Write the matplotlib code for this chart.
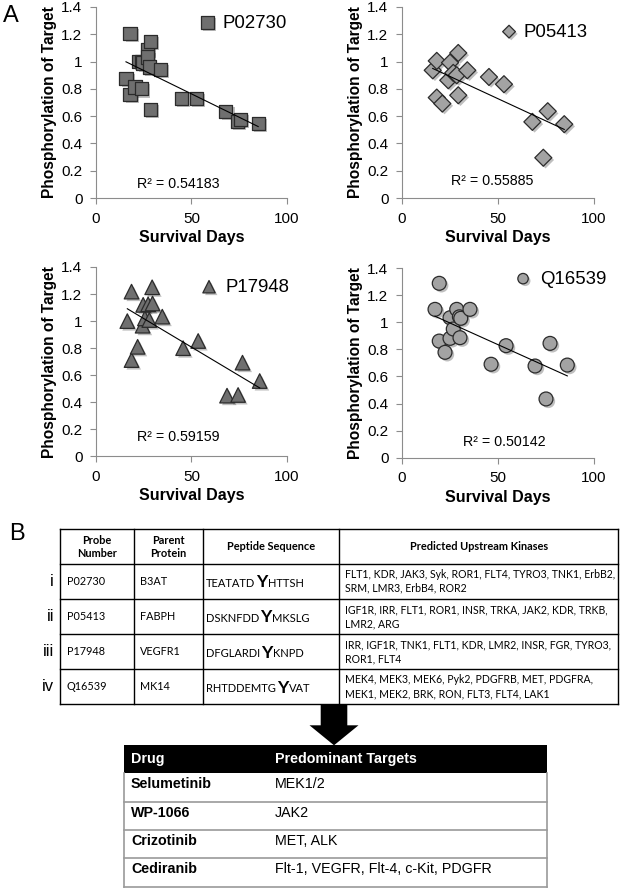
import numpy as np
import matplotlib
matplotlib.use("Agg")
import matplotlib.pyplot as plt
import matplotlib.patheffects as pe
from matplotlib.ticker import FuncFormatter, FixedLocator
from matplotlib.patches import FancyArrow

# ---------------- data ----------------
probes = ["P02730", "P05413", "P17948", "Q16539"]
r2_labels = ["R² = 0.54183", "R² = 0.55885", "R² = 0.59159", "R² = 0.50142"]

days_p02730 = [15.7, 17.8, 17.8, 20.4, 22.5, 23.9, 23.9, 24.6, 26.8, 26.8, 27.9, 28.6, 28.6, 33.8, 44.8, 52.6, 68.0, 74.0, 75.6, 84.9]
phos_p02730 = [0.875, 1.205, 0.76, 0.814, 1.0, 1.0, 0.80, 0.99, 1.09, 1.034, 0.96, 1.15, 0.65, 0.944, 0.73, 0.73, 0.636, 0.563, 0.575, 0.546]

days_p05413 = [16.0, 18.1, 18.1, 21.0, 24.1, 25.0, 26.7, 28.5, 29.3, 29.3, 34.0, 45.3, 53.1, 67.9, 73.6, 75.9, 84.5]
phos_p05413 = [0.936, 1.005, 0.736, 0.692, 0.863, 0.992, 0.917, 0.90, 1.063, 0.753, 0.936, 0.887, 0.834, 0.558, 0.295, 0.636, 0.541]

days_p17948 = [16.4, 18.6, 18.6, 21.8, 24.4, 24.7, 25.6, 27.3, 27.9, 29.4, 29.6, 34.7, 45.6, 53.5, 68.6, 74.4, 76.7, 85.7]
phos_p17948 = [1.0, 1.218, 0.712, 0.81, 0.966, 1.12, 1.02, 1.124, 1.008, 1.25, 1.13, 1.033, 0.80, 0.853, 0.449, 0.454, 0.693, 0.557]

days_q16539 = [17.2, 19.4, 19.4, 22.4, 25.0, 25.0, 26.7, 28.5, 29.9, 30.2, 30.6, 35.4, 46.4, 54.2, 69.3, 75.0, 77.1, 86.1]
phos_q16539 = [1.095, 1.287, 0.861, 0.778, 1.033, 0.881, 0.95, 1.095, 1.04, 0.886, 1.029, 1.095, 0.69, 0.827, 0.677, 0.434, 0.844, 0.684]

x_ticks = [0, 50, 100]
y_ticks = [0, 0.2, 0.4, 0.6, 0.8, 1.0, 1.2, 1.4]

# table B
tb_headers = ["Probe\nNumber", "Parent\nProtein", "Peptide Sequence", "Predicted Upstream Kinases"]
tb_roman = ["i", "ii", "iii", "iv"]
tb_probe = ["P02730", "P05413", "P17948", "Q16539"]
tb_parent = ["B3AT", "FABPH", "VEGFR1", "MK14"]
tb_pep_pre = ["TEATATD", "DSKNFDD", "DFGLARDI", "RHTDDEMTG"]
tb_pep_site = ["Y", "Y", "Y", "Y"]
tb_pep_post = ["HTTSH", "MKSLG", "KNPD", "VAT"]
tb_kinases = [
    "FLT1, KDR, JAK3, Syk, ROR1, FLT4, TYRO3, TNK1, ErbB2,\nSRM, LMR3, ErbB4, ROR2",
    "IGF1R, IRR, FLT1, ROR1, INSR, TRKA, JAK2, KDR, TRKB,\nLMR2, ARG",
    "IRR, IGF1R, TNK1, FLT1, KDR, LMR2, INSR, FGR, TYRO3,\nROR1, FLT4",
    "MEK4, MEK3, MEK6, Pyk2, PDGFRB, MET, PDGFRA,\nMEK1, MEK2, BRK, RON, FLT3, FLT4, LAK1",
]

drug_headers = ["Drug", "Predominant Targets"]
drugs = ["Selumetinib", "WP-1066", "Crizotinib", "Cediranib"]
drug_targets = ["MEK1/2", "JAK2", "MET, ALK", "Flt-1, VEGFR, Flt-4, c-Kit, PDGFR"]

# ---------------- figure ----------------
W, H = 625, 891
fig = plt.figure(figsize=(W / 100, H / 100), dpi=100)
SANS = ["Liberation Sans", "DejaVu Sans"]
TAB = ["Lato", "DejaVu Sans"]
plt.rcParams["font.family"] = SANS


def px_axes(x0, x1, ytop, ybot):
    return [x0 / W, 1 - ybot / H, (x1 - x0) / W, (ybot - ytop) / H]


panels = [
    dict(rect=px_axes(96, 287, 7, 198), x=days_p02730, y=phos_p02730, marker="s", ms=90,
         fc="#6f6f6f", lscale=1.0, leg=(0.533, 0.916), pad=0.35, r2=(0.429, 0.073)),
    dict(rect=px_axes(402, 594, 7, 198), x=days_p05413, y=phos_p05413, marker="D", ms=75,
         fc="#a3a3a3", lscale=0.75, leg=(0.509, 0.869), pad=0.3, r2=(0.469, 0.089)),
    dict(rect=px_axes(96, 287, 267, 456.4), x=days_p17948, y=phos_p17948, marker="^", ms=110,
         fc="#6f6f6f", lscale=0.85, leg=(0.543, 0.894), pad=0.36, r2=(0.429, 0.102)),
    dict(rect=px_axes(402, 594, 268, 457.8), x=days_q16539, y=phos_q16539, marker="o", ms=100,
         fc="#a3a3a3", lscale=0.75, leg=(0.582, 0.942), pad=0.41, r2=(0.531, 0.083)),
]

spine_col = "#8c8c8c"
shadow = [pe.SimplePatchShadow(offset=(1.6, -1.6), shadow_rgbFace="#000000", alpha=0.25), pe.Normal()]

for i, p in enumerate(panels):
    ax = fig.add_axes(p["rect"])
    x = np.array(p["x"])
    y = np.array(p["y"])
    sc = ax.scatter(x, y, s=p["ms"], marker=p["marker"], facecolor=p["fc"], edgecolor="#2b2b2b",
                    linewidth=0.9, zorder=3, label=probes[i])
    sc.set_path_effects(shadow)
    k, b = np.polyfit(x, y, 1)
    xl = np.array([x.min(), x.max()])
    ax.plot(xl, k * xl + b, color="black", lw=0.8, zorder=4)
    ax.set_xlim(0, 100)
    ax.set_ylim(0, 1.4)
    ax.xaxis.set_major_locator(FixedLocator(x_ticks))
    ax.yaxis.set_major_locator(FixedLocator(y_ticks))
    ax.yaxis.set_major_formatter(FuncFormatter(lambda v, _: f"{v:g}"))
    for s in ["top", "right"]:
        ax.spines[s].set_visible(False)
    for s in ["left", "bottom"]:
        ax.spines[s].set_color(spine_col)
        ax.spines[s].set_linewidth(0.8)
    ax.tick_params(axis="both", direction="out", length=4.3, width=0.8, color=spine_col,
                   labelsize=11, pad=5.5, labelcolor="black")
    ax.set_xlabel("Survival Days", fontsize=11.5, fontweight="bold", labelpad=3)
    ax.set_ylabel("Phosphorylation of Target", fontsize=11.2, fontweight="bold", labelpad=3)
    ax.patch.set_alpha(0)
    ax.legend(loc="center left", bbox_to_anchor=p["leg"], frameon=False, fontsize=13.4,
              handlelength=1.0, handletextpad=p["pad"], borderpad=0, borderaxespad=0,
              markerscale=p["lscale"], scatterpoints=1)
    ax.text(p["r2"][0], p["r2"][1], r2_labels[i], transform=ax.transAxes, fontsize=10.3,
            ha="center", va="center")

# ---------------- overlay in pixel coordinates ----------------
ov = fig.add_axes([0, 0, 1, 1], zorder=5)
ov.set_xlim(0, W)
ov.set_ylim(H, 0)
ov.axis("off")
ov.patch.set_alpha(0)

ov.text(10.5, 15.5, "A", fontsize=17, ha="center", va="center", family=SANS)
ov.text(16.7, 534, "B", fontsize=17, ha="center", va="center", family=SANS)

# table B
cols = [60, 134.3, 202.7, 339.3, 618]
rows = [529.3, 564, 599, 634.3, 669.3, 704.3]
for c in cols:
    ov.plot([c, c], [rows[0], rows[-1]], color="black", lw=1.0, solid_capstyle="projecting")
for r in rows:
    ov.plot([cols[0], cols[-1]], [r, r], color="black", lw=1.0, solid_capstyle="projecting")

hy = (rows[0] + rows[1]) / 2
for j, h in enumerate(tb_headers):
    ov.text((cols[j] + cols[j + 1]) / 2, hy, h, ha="center", va="center", fontsize=7.9,
            fontweight="bold", family=TAB, linespacing=1.2)

for r in range(4):
    yc = (rows[r + 1] + rows[r + 2]) / 2
    ov.text(54, yc, tb_roman[r], ha="right", va="center", fontsize=12, family=SANS)
    ov.text(cols[0] + 6.5, yc, tb_probe[r], ha="left", va="center", fontsize=7.8, family=TAB)
    ov.text(cols[1] + 6, yc, tb_parent[r], ha="left", va="center", fontsize=7.8, family=TAB)
    t1 = ov.text(cols[2] + 3.5, yc + 5.5, tb_pep_pre[r], ha="left", va="baseline", fontsize=8.0, family=TAB)
    t2 = ov.annotate(tb_pep_site[r], xy=(1, 0), xycoords=t1, xytext=(0.6, -0.9), textcoords="offset points",
                     ha="left", va="bottom", fontsize=12.5, fontweight="bold", family=TAB)
    ov.annotate(tb_pep_post[r], xy=(1, 0), xycoords=t2, xytext=(0.6, 0.9), textcoords="offset points",
                ha="left", va="bottom", fontsize=8.0, family=TAB)
    ov.text(cols[3] + 6, yc, tb_kinases[r], ha="left", va="center", fontsize=7.6, family=TAB,
            linespacing=1.3)

# arrow
ov.add_patch(FancyArrow(334, 704.3, 0, 41, width=26.6, head_width=49, head_length=20,
                        length_includes_head=True, color="black", lw=0))

# drug table
dl, dr = 124, 547
dtop, dhead = 745, 772.7
drow = [772.7, 801.7, 830, 858.3, 886.7]
ov.add_patch(plt.Rectangle((dl, dtop), dr - dl, dhead - dtop, color="black", lw=0))
ov.text(131, (dtop + dhead) / 2, drug_headers[0], color="white", fontsize=10.3, fontweight="bold",
        ha="left", va="center", family=SANS)
ov.text(275, (dtop + dhead) / 2, drug_headers[1], color="white", fontsize=10.3, fontweight="bold",
        ha="left", va="center", family=SANS)
gray = "#9a9a9a"
for r in drow[1:]:
    ov.plot([dl, dr], [r, r], color=gray, lw=1.2)
ov.plot([dl, dl], [dhead, drow[-1]], color=gray, lw=1.2)
ov.plot([dr, dr], [dhead, drow[-1]], color=gray, lw=1.2)
for i in range(4):
    yt = drow[i] + 11
    ov.text(131, yt, drugs[i], fontsize=10.3, fontweight="bold", ha="left", va="center", family=SANS)
    ov.text(275, yt, drug_targets[i], fontsize=10.3, ha="left", va="center", family=SANS)

fig.savefig("out.png", dpi=100)
